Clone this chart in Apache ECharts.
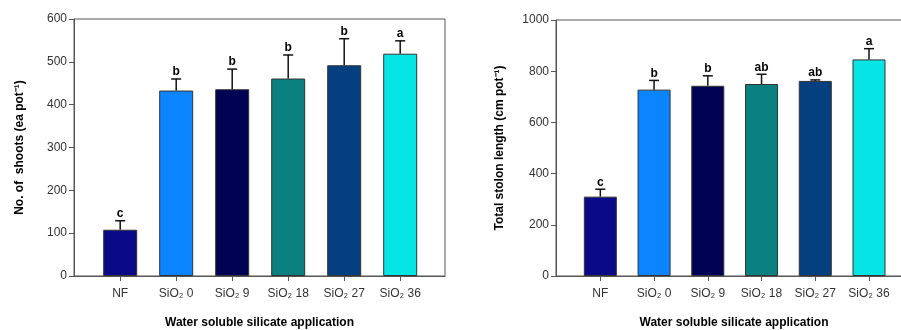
<!DOCTYPE html>
<html>
<head>
<meta charset="utf-8">
<script src="https://cdn.jsdelivr.net/npm/echarts@6/dist/echarts.min.js"></script>
<style>
    html, body { margin: 0; padding: 0; background: #fff; }
    #chart { width: 901px; height: 330px; }
</style>
</head>
<body>
<div id="chart"></div>
<script>
var categories = ['NF', 'SiO₂ 0', 'SiO₂ 9', 'SiO₂ 18', 'SiO₂ 27', 'SiO₂ 36'];
var barColors = ['#0a0a88', '#0a84ff', '#020255', '#0a8080', '#043f80', '#05e5e5'];

// left panel: number of shoots
var shoots = [108, 433, 436, 461, 492, 519];
var shootsErr = [21, 27, 47, 55, 62, 30];
var shootsLetters = ['c', 'b', 'b', 'b', 'b', 'a'];

// right panel: total stolon length
var stolon = [310, 728, 743, 750, 762, 846];
var stolonErr = [29, 36, 39, 38, 4, 42];
var stolonLetters = ['c', 'b', 'b', 'ab', 'ab', 'a'];

var tickPos = [0, 1, 2, 3, 4, 5];
var FONT = '"Liberation Sans", Arial, sans-serif';

var chart = echarts.init(document.getElementById('chart'));

function barData(vals) {
    return vals.map(function (v, i) {
        return { value: [i, v], itemStyle: { color: barColors[i] } };
    });
}

function errData(vals, errs) {
    return vals.map(function (v, i) { return [i, v, errs[i]]; });
}

function errorItem(letters) {
    return function (params, api) {
        var i = params.dataIndex;
        var base = api.coord([api.value(0), api.value(1)]);
        var top = api.coord([api.value(0), api.value(1) + api.value(2)]);
        var st = { stroke: '#111', lineWidth: 1.5 };
        return {
            type: 'group',
            children: [
                { type: 'line', shape: { x1: base[0], y1: base[1], x2: top[0], y2: top[1] }, style: st },
                { type: 'line', shape: { x1: top[0] - 5, y1: top[1], x2: top[0] + 5, y2: top[1] }, style: st },
                {
                    type: 'text',
                    style: {
                        text: letters[i], x: top[0], y: top[1] - 1,
                        align: 'center', verticalAlign: 'bottom',
                        font: 'bold 12px ' + FONT, fill: '#000'
                    }
                }
            ]
        };
    };
}

function xAxis(idx) {
    return {
        type: 'value', gridIndex: idx, min: -0.825, max: 5.8,
        name: 'Water soluble silicate application',
        nameLocation: 'middle', nameGap: 41,
        nameTextStyle: { fontFamily: FONT, fontWeight: 'bold', fontSize: 12, color: '#000' },
        axisLine: { show: true, onZero: false, lineStyle: { color: '#555', width: 1 } },
        axisTick: { show: true, customValues: tickPos, length: 5, lineStyle: { color: '#555' } },
        axisLabel: {
            customValues: tickPos, margin: 12,
            fontFamily: FONT, fontSize: 12, color: '#333',
            formatter: function (v) { return categories[Math.round(v)]; }
        },
        splitLine: { show: false }
    };
}

function yAxis(idx, max, step, title, gap) {
    return {
        type: 'value', gridIndex: idx, min: 0, max: max, interval: step,
        name: title, nameLocation: 'middle', nameGap: gap,
        nameTextStyle: { fontFamily: FONT, fontWeight: 'bold', fontSize: 12, color: '#000' },
        axisLine: { show: true, onZero: false, lineStyle: { color: '#555', width: 1 } },
        axisTick: { show: true, length: 5, lineStyle: { color: '#555' } },
        axisLabel: {
            margin: 7, fontFamily: FONT, fontSize: 12, color: '#333',
            formatter: function (v) { return String(v); }
        },
        splitLine: { show: false }
    };
}

var option = {
    animation: false,
    grid: [
        { left: 74, top: 19, width: 371, height: 257, outerBoundsMode: 'none', containLabel: false,
          show: true, borderColor: '#555', borderWidth: 1 },
        { left: 556, top: 20, width: 356, height: 256, outerBoundsMode: 'none', containLabel: false,
          show: true, borderColor: '#555', borderWidth: 1 }
    ],
    xAxis: [xAxis(0), xAxis(1)],
    yAxis: [
        yAxis(0, 600, 100, 'No. of  shoots (ea pot⁻¹)', 48),
        yAxis(1, 1000, 200, 'Total stolon length (cm pot⁻¹)', 50)
    ],
    series: [
        {
            type: 'bar', xAxisIndex: 0, yAxisIndex: 0, barWidth: 34,
            itemStyle: { borderColor: '#333', borderWidth: 1 },
            data: barData(shoots)
        },
        {
            type: 'custom', xAxisIndex: 0, yAxisIndex: 0,
            renderItem: errorItem(shootsLetters), data: errData(shoots, shootsErr), z: 5
        },
        {
            type: 'bar', xAxisIndex: 1, yAxisIndex: 1, barWidth: 33,
            itemStyle: { borderColor: '#333', borderWidth: 1 },
            data: barData(stolon)
        },
        {
            type: 'custom', xAxisIndex: 1, yAxisIndex: 1,
            renderItem: errorItem(stolonLetters), data: errData(stolon, stolonErr), z: 5
        }
    ]
};

chart.setOption(option);
</script>
</body>
</html>
